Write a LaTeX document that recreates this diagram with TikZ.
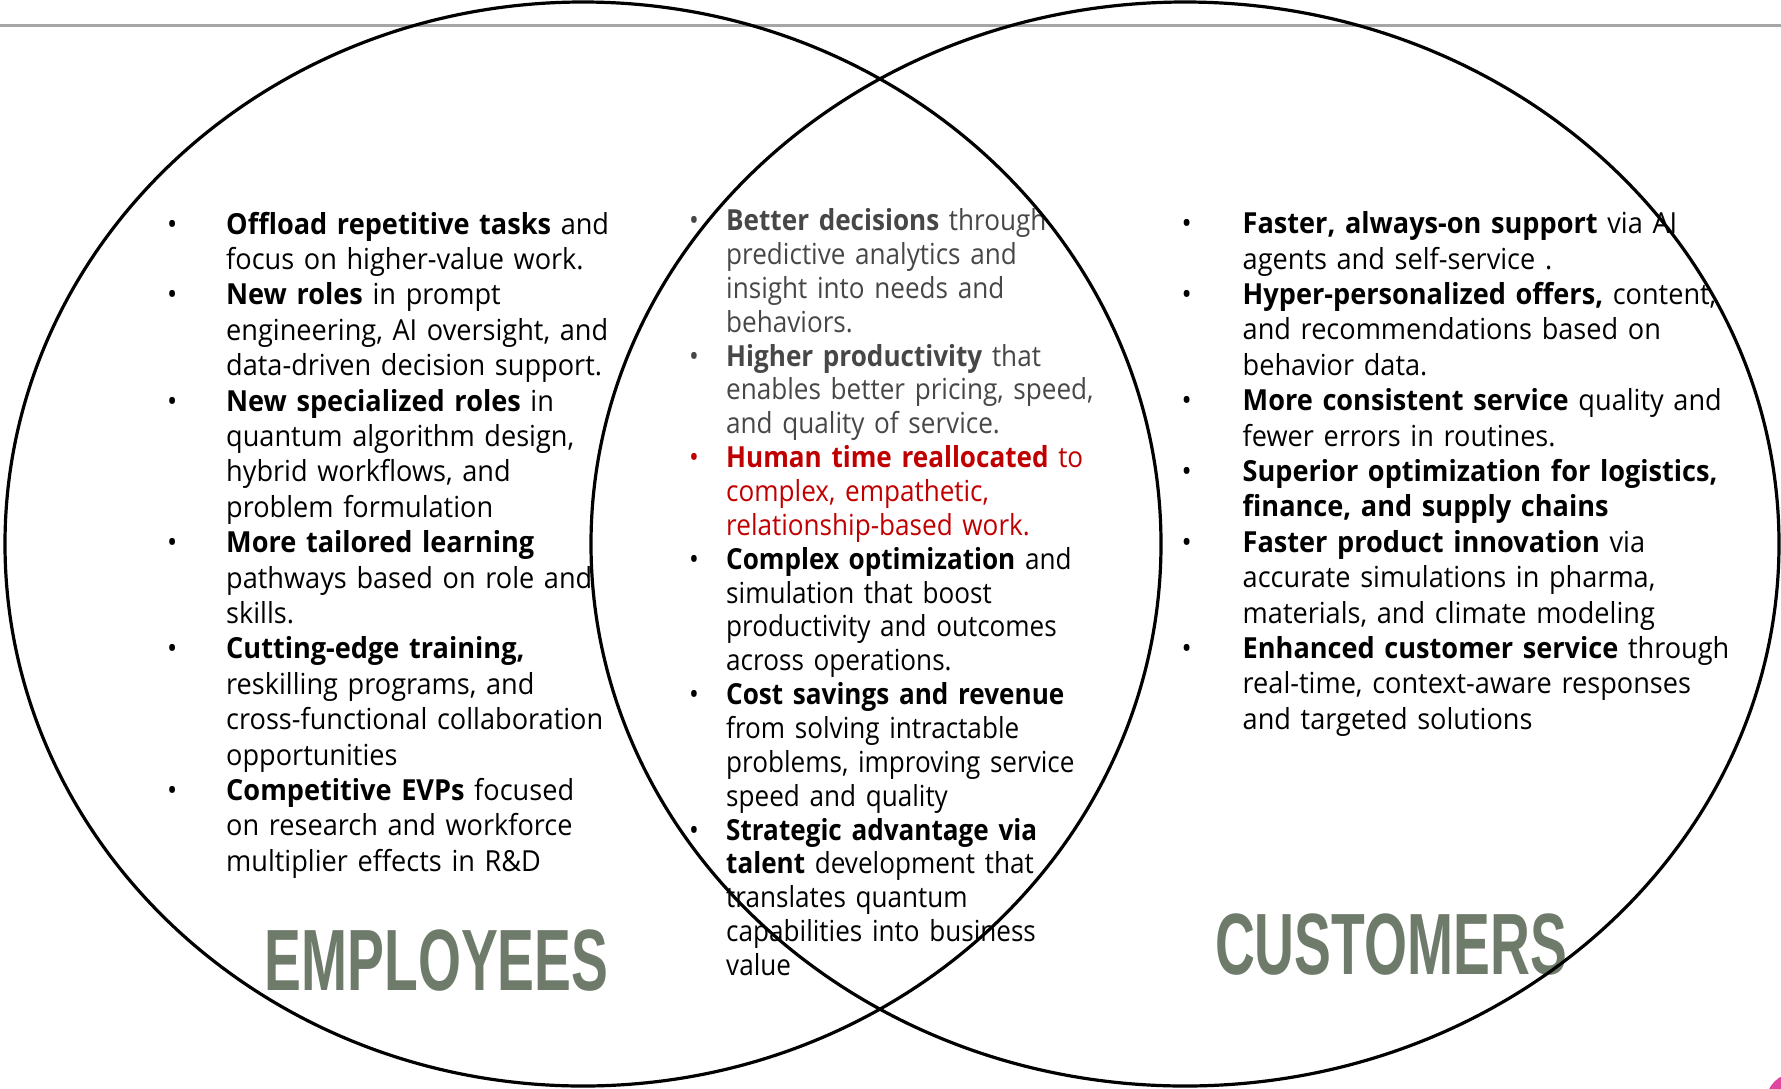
\documentclass[tikz,border=0pt]{standalone}
\usepackage{fontspec}
\setmainfont{Open Sans}[FakeStretch=0.935]
\newfontfamily\midfont{Open Sans}[FakeStretch=0.9]
\newfontfamily\titlefont{Liberation Sans}[FakeStretch=0.635]
\definecolor{sage}{HTML}{6E7A6A}
\definecolor{darkred}{HTML}{C00000}
\definecolor{midgray}{HTML}{474747}
\definecolor{rulegray}{HTML}{A6A6A6}
\definecolor{cornerpink}{HTML}{E0479E}
% bullet hung to the left of the item text
\newcommand\bul[1]{\leavevmode\llap{\makebox[#1][l]{•}}}

\begin{document}
\begin{tikzpicture}[x=1pt,y=-1pt,
ring/.style ={draw=black, line width=3.2pt},
body/.style ={anchor=base west, inner sep=0pt, text width=#1, align=left,
  font=\fontsize{29}{35.4}\selectfont
},
title/.style ={anchor=base, inner sep=0pt, text=sage,
  font=\titlefont\bfseries\fontsize{87}{90}\selectfont
}]
\useasboundingbox (0,0) rectangle (1781,1088);
\draw[rulegray, line width=3pt] (0,25.6) -- (1781,25.6);
\fill[cornerpink] (1795,1102) circle (29pt);

% employees side
\node (emp) at (226,234) [body=560pt] {%
\bul{59pt}\textbf{Offload repetitive tasks} and\\ focus on higher-value work.\par
\bul{59pt}\textbf{New roles} in prompt\\ engineering, AI oversight, and\\ data-driven decision support.\par
\bul{59pt}\textbf{New specialized roles} in\\ quantum algorithm design,\\ hybrid workflows, and\\ problem formulation\par
\bul{59pt}\textbf{More tailored learning}\\ pathways based on role and\\ skills.\par
\bul{59pt}\textbf{Cutting-edge training,}\\ reskilling programs, and\\ cross-functional collaboration\\ opportunities\par
\bul{59pt}\textbf{Competitive EVPs} focused\\ on research and workforce\\ multiplier effects in R\&D};

% shared benefits in the overlap
\node (both) at (726,230.7) [body=560pt, font=\midfont\fontsize{29}{33.85}\selectfont] {%
{\color{midgray}\bul{37pt}\textbf{Better decisions} through\\ predictive analytics and\\ insight into needs and\\ behaviors.\par
\bul{37pt}\textbf{Higher productivity} that\\ enables better pricing, speed,\\ and quality of service.\par}
{\color{darkred}\bul{37pt}\textbf{Human time reallocated} to\\ complex, empathetic,\\ relationship-based work.\par}
\bul{37pt}\textbf{Complex optimization} and\\ simulation that boost\\ productivity and outcomes\\ across operations.\par
\bul{37pt}\textbf{Cost savings and revenue}\\ from solving intractable\\ problems, improving service\\ speed and quality\par
\bul{37pt}\textbf{Strategic advantage via}\\ \textbf{talent} development that\\ translates quantum\\ capabilities into business\\ value};

% customers side
\node (cus) at (1242.5,233.6) [body=600pt] {%
\bul{61pt}\textbf{Faster, always-on support} via AI\\ agents and self-service .\par
\bul{61pt}\textbf{Hyper-personalized offers,} content,\\ and recommendations based on\\ behavior data.\par
\bul{61pt}\textbf{More consistent service} quality and\\ fewer errors in routines.\par
\bul{61pt}\textbf{Superior optimization for logistics,}\\ \textbf{finance, and supply chains}\par
\bul{61pt}\textbf{Faster product innovation} via\\ accurate simulations in pharma,\\ materials, and climate modeling\par
\bul{61pt}\textbf{Enhanced customer service} through\\ real-time, context-aware responses\\ and targeted solutions};

\node (empt) at (436.5,990) [title] {EMPLOYEES};
\node (cust) at (1391,974) [title] {CUSTOMERS};

% the two sets
\draw[ring] (583,544) ellipse [x radius=578pt, y radius=542pt];
\draw[ring] (1185,544) ellipse [x radius=594pt, y radius=542pt];
\end{tikzpicture}
\end{document}
